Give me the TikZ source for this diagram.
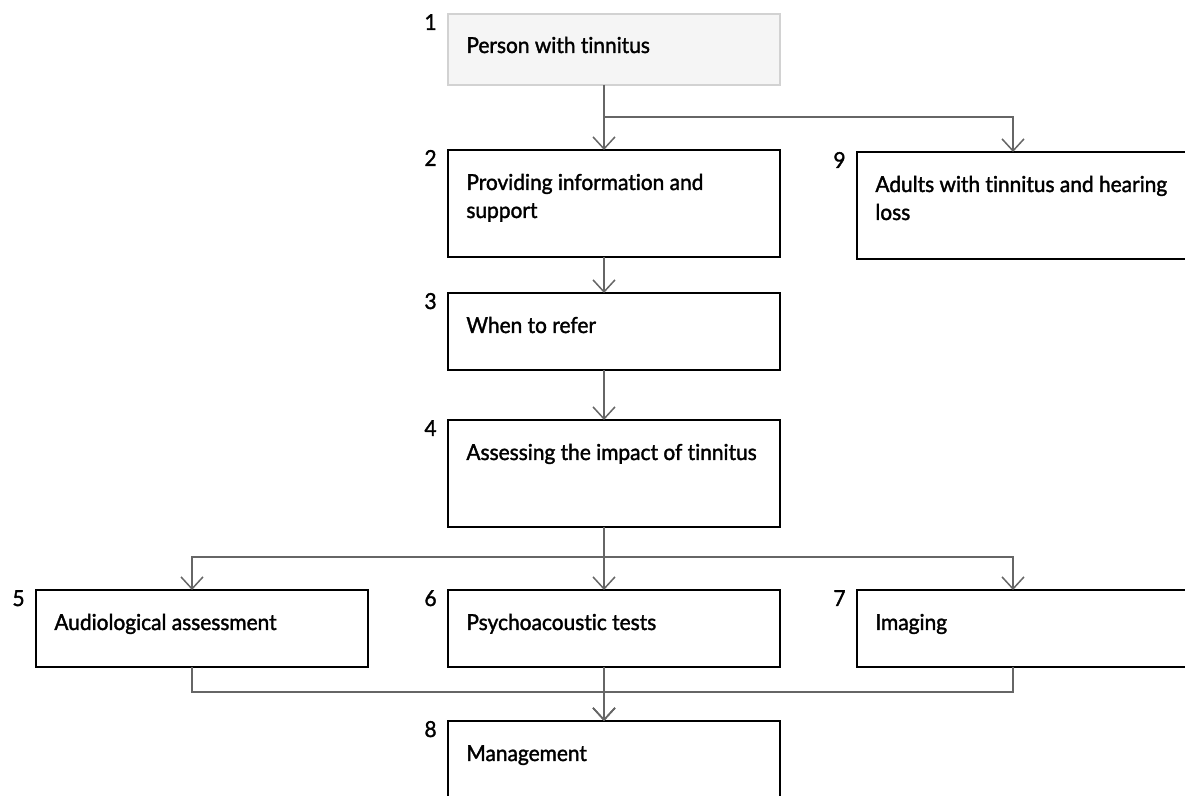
\documentclass[tikz,border=0pt]{standalone}
\usepackage{fontspec}
\setmainfont{Lato}[Ligatures=CommonOff, FakeStretch=0.95, FakeBold=1.6]
\usetikzlibrary{arrows.meta,calc}

\tikzset{
  box/.style={draw=black, line width=1pt, anchor=north west, inner sep=0pt, outer sep=0pt, minimum width=166pt},
  first/.style={box, draw=gray!35, fill=gray!8},
  txt/.style={anchor=base west, inner sep=0pt, align=left, font=\fontsize{11}{14}\selectfont},
  num/.style={anchor=base east, inner sep=0pt, font=\fontsize{11}{14}\selectfont},
  conn/.style={draw=black!60, line width=0.75pt, -{Straight Barb[length=6pt,width=11pt]}},
}

\begin{document}
\begin{tikzpicture}[x=0.5pt, y=-0.5pt]
    \useasboundingbox (0,0) rectangle (1185,796);
    % Boxes
    \node[first, minimum height=35.5pt] (b1) at (448,14) {};
    \foreach \n/\x/\y/\h in {2/448/150/107, 9/857/152/107, 3/448/293/77, 4/448/420/107,
                             5/36/590/77, 6/448/590/77, 7/857/590/77, 8/448/721/100}
        \node[box, minimum height=\h*0.5pt] (b\n) at (\x,\y) {};
    % Numbers
    \foreach \n in {1,...,9}
        \node[num] (n\n) at ($(b\n.north west)+(-11,16)$) {\n};
    % Texts (base = last line)
    \node[txt] (t1) at ($(b1.north west)+(18,39)$) {Person with tinnitus};
    \node[txt] (t2) at ($(b2.north west)+(18,68)$) {Providing information and\\support};
    \node[txt] (t9) at ($(b9.north west)+(18,68)$) {Adults with tinnitus and hearing\\loss};
    \node[txt] (t3) at ($(b3.north west)+(18,40)$) {When to refer};
    \node[txt] (t4) at ($(b4.north west)+(18,40)$) {Assessing the impact of tinnitus};
    \node[txt] (t5) at ($(b5.north west)+(18,40)$) {Audiological assessment};
    \node[txt] (t6) at ($(b6.north west)+(18,40)$) {Psychoacoustic tests};
    \node[txt] (t7) at ($(b7.north west)+(18,40)$) {Imaging};
    \node[txt] (t8) at ($(b8.north west)+(18,40)$) {Management};
    % Connectors
    \draw[conn] ([xshift=-5pt]b1.south) -- ([xshift=-5pt]b2.north);
    \draw[conn] ([xshift=-5pt]b1.south) -- ++(0,32) -| ([xshift=-5pt]b9.north);
    \draw[conn] ([xshift=-5pt]b2.south) -- ([xshift=-5pt]b3.north);
    \draw[conn] ([xshift=-5pt]b3.south) -- ([xshift=-5pt]b4.north);
    \foreach \n in {5,6,7}
        \draw[conn] ([xshift=-5pt]b4.south) -- ++(0,30) -| ([xshift=-5pt]b\n.north);
    \foreach \n in {5,6,7}
        \draw[conn] ([xshift=-5pt]b\n.south) -- ++(0,25) -| ([xshift=-5pt]b8.north);
\end{tikzpicture}
\end{document}
